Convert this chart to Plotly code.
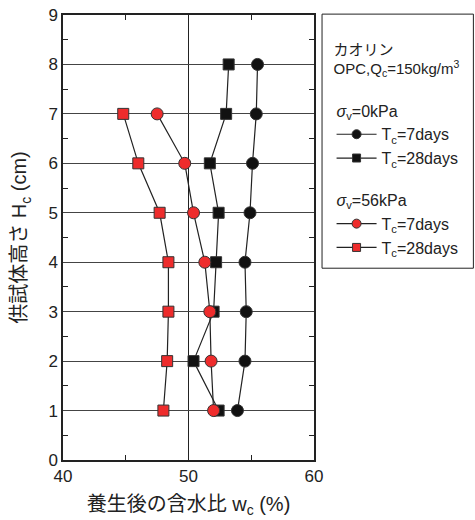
import plotly.graph_objects as go

heights = [1, 2, 3, 4, 5, 6, 7, 8]
w_0kpa_7d = [53.9, 54.5, 54.6, 54.5, 54.9, 55.1, 55.4, 55.5]
w_0kpa_28d = [52.4, 50.4, 52.0, 52.2, 52.4, 51.7, 53.0, 53.2]
heights_56 = [1, 2, 3, 4, 5, 6, 7]
w_56kpa_7d = [52.0, 51.8, 51.7, 51.3, 50.4, 49.7, 47.5]
w_56kpa_28d = [48.0, 48.3, 48.4, 48.4, 47.7, 46.0, 44.8]

FONT = "Liberation Sans, Noto Sans CJK JP, sans-serif"
RED = "#EE2C2C"
BLACK = "#111111"

fig = go.Figure()

def add(x, y, sym, color, name, group, gtitle):
    # data trace
    fig.add_trace(go.Scatter(
        x=x, y=y, mode="lines+markers", name=name, showlegend=False,
        legendgroup=group,
        line=dict(color="#222222", width=1.2),
        marker=dict(symbol=sym, size=12 if sym == "circle" else 11, color=color,
                    line=dict(color="#333333", width=1)),
    ))
    # legend entry with smaller marker
    fig.add_trace(go.Scatter(
        x=[None], y=[None], mode="lines+markers", name=name, showlegend=True,
        legendgroup=group, legendgrouptitle=dict(text=gtitle),
        line=dict(color="#222222", width=1.2),
        marker=dict(symbol=sym, size=9 if sym == "circle" else 8, color=color,
                    line=dict(color="#333333", width=1)),
    ))

add(w_0kpa_7d, heights, "circle", BLACK, "T<sub>c</sub>=7days", "a", "<i>σ</i><sub>v</sub>=0kPa")
add(w_0kpa_28d, heights, "square", BLACK, "T<sub>c</sub>=28days", "a", "<i>σ</i><sub>v</sub>=0kPa")
add(w_56kpa_7d, heights_56, "circle", RED, "T<sub>c</sub>=7days", "b", "<i>σ</i><sub>v</sub>=56kPa")
add(w_56kpa_28d, heights_56, "square", RED, "T<sub>c</sub>=28days", "b", "<i>σ</i><sub>v</sub>=56kPa")

fig.add_shape(type="rect", xref="paper", yref="paper", x0=1.032, x1=1.635, y0=0.431, y1=1.002,
              line=dict(color="#222222", width=1))

fig.update_layout(
    width=475, height=520,
    margin=dict(l=63, r=161, t=15, b=60, autoexpand=False),
    paper_bgcolor="white", plot_bgcolor="white",
    font=dict(family=FONT, size=15, color="#222222"),
    showlegend=True,
    legend=dict(
        x=1.07, y=0.955, xanchor="left", yanchor="top",
        bgcolor="rgba(0,0,0,0)", borderwidth=0,
        title=dict(text="カオリン<br>OPC,Q<sub>c</sub>=150kg/m<sup>3</sup><br> ", font=dict(size=15)),
        font=dict(size=16), tracegroupgap=18, itemwidth=40,
        grouptitlefont=dict(size=16),
    ),
    xaxis=dict(
        range=[40, 60], dtick=10, tick0=40, automargin=False,
        showgrid=True, gridcolor="#222222", gridwidth=1,
        showline=True, linecolor="#222222", linewidth=1.5, mirror="ticks",
        ticks="", zeroline=False,
        minor=dict(dtick=5, ticks="inside", ticklen=5, tickcolor="#222222", showgrid=False),
        tickfont=dict(size=17),
        title=dict(text="養生後の含水比 w<sub>c</sub> (%)", font=dict(size=20), standoff=12),
    ),
    yaxis=dict(
        range=[0, 9], dtick=1, tick0=0, automargin=False,
        showgrid=True, gridcolor="#444444", gridwidth=1,
        showline=True, linecolor="#222222", linewidth=1.5, mirror="ticks",
        ticks="", zeroline=False,
        minor=dict(dtick=0.5, ticks="inside", ticklen=5, tickcolor="#222222", showgrid=False),
        tickfont=dict(size=17),
        title=dict(text="供試体高さ H<sub>c</sub> (cm)", font=dict(size=20), standoff=16),
    ),
)

fig.write_html("out.html")
